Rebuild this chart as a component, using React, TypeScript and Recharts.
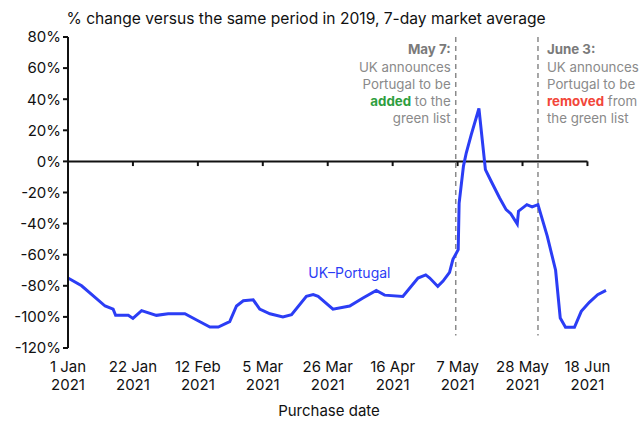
import React from 'react';
import { LineChart, Line, XAxis, YAxis, ReferenceLine, ReferenceDot } from 'recharts';

// day offsets from 1 Jan 2021 and the 7-day average % change
const days = [
  0, 4.4, 12, 14.6, 15.4, 19.5, 21, 23.8, 28.6, 32.4,
  37.8, 41.6, 45.9, 48.6, 52.3, 54.5, 56.7, 59.9, 62, 65.3,
  69.5, 72.3, 77.1, 79.3, 80.9, 85.7, 91.1, 95.4, 99.7, 102.4,
  108.3, 113.2, 115.7, 117, 119.6, 121.3, 123.4, 124.5, 126.2, 126.5,
  127.9, 128.8, 130.4, 132.9, 135, 136.9, 139.6, 141.7, 143.2, 145.3,
  145.7, 148.4, 150.1, 152, 155, 157.7, 159.2, 160.9, 163.8, 166,
  168.6, 171.3, 174,
];
const ukPortugal = [
  -75, -80, -93, -95, -99, -99, -101, -96, -99, -98,
  -98, -102, -106.5, -106.5, -103, -93, -89.6, -89, -95, -98,
  -100, -98.6, -86.8, -85.7, -86.8, -95, -93, -87.8, -83, -86,
  -86.8, -75, -73, -75, -80.4, -77, -71.4, -63, -56.8, -26.8,
  -3, 5.4, 17, 34, -5.3, -12.9, -23.5, -31, -33.6, -40.3,
  -32, -27.8, -29.3, -27.8, -48, -70, -100.7, -106.7, -106.7, -96.4,
  -90.6, -85.7, -83,
];

const tickDays = [0, 21, 42, 63, 84, 105, 126, 147, 168];
const tickLabels = ['1 Jan', '22 Jan', '12 Feb', '5 Mar', '26 Mar', '16 Apr', '7 May', '28 May', '18 Jun'];
const yTicks = [-120, -100, -80, -60, -40, -20, 0, 20, 40, 60, 80];

const addedDay = 125.4;
const removedDay = 152;

const data = days.map((d, i) => ({ day: d, value: ukPortugal[i] }));

const FONT = 'Inter, "Noto Sans", sans-serif';
const GREY = '#8a8a8a';
const BLUE = '#2b3df5';

// the root clips its content, so drop the body margin and use the full window
if (typeof document !== 'undefined') document.body.style.margin = '0';

const XTick = (props: any) => {
  const { x, y, payload } = props;
  const i = tickDays.indexOf(payload.value);
  return (
    <g>
      <text x={x} y={y} dy={16} textAnchor="middle" fontSize={15} fill="#111" fontFamily={FONT}>
        {tickLabels[i]}
      </text>
      <text x={x} y={y} dy={34} textAnchor="middle" fontSize={15} fill="#111" fontFamily={FONT}>
        2021
      </text>
    </g>
  );
};

const noteStyle = { fontSize: 13.3, fontFamily: FONT, fill: GREY };

const AddedNote = (props: any) => {
  const { x, y } = props.viewBox;
  const tx = x - 5;
  return (
    <g>
      <text x={tx} y={y + 17} textAnchor="end" {...noteStyle} fontWeight={700} fill="#7a7a7a">May 7:</text>
      <text x={tx} y={y + 34.5} textAnchor="end" {...noteStyle}>UK announces</text>
      <text x={tx} y={y + 51.5} textAnchor="end" {...noteStyle}>Portugal to be</text>
      <text x={tx} y={y + 69} textAnchor="end" {...noteStyle}>
        <tspan fill="#2e9e3e" fontWeight={700}>added</tspan> to the
      </text>
      <text x={tx} y={y + 86} textAnchor="end" {...noteStyle}>green list</text>
    </g>
  );
};

const RemovedNote = (props: any) => {
  const { x, y } = props.viewBox;
  const tx = x + 9;
  return (
    <g>
      <text x={tx} y={y + 17} {...noteStyle} fontWeight={700} fill="#7a7a7a">June 3:</text>
      <text x={tx} y={y + 34.5} {...noteStyle}>UK announces</text>
      <text x={tx} y={y + 51.5} {...noteStyle}>Portugal to be</text>
      <text x={tx} y={y + 69} {...noteStyle}>
        <tspan fill="#f2463a" fontWeight={700}>removed</tspan> from
      </text>
      <text x={tx} y={y + 86} {...noteStyle}>the green list</text>
    </g>
  );
};

export default function App() {
  return (
    <div style={{ position: 'relative', width: 643, height: 421, overflow: 'hidden' }}>
      <style>{'.recharts-surface, .recharts-wrapper { overflow: visible !important; }'}</style>
      <div style={{ position: 'absolute', left: 8, top: 8 }}>
        <LineChart
          width={635}
          height={413}
          data={data}
          margin={{ top: 29, right: 37, left: 0, bottom: 0 }}
        >
          <XAxis
            dataKey="day"
            type="number"
            domain={[0, 174]}
            ticks={tickDays}
            axisLine={false}
            tickLine={false}
            height={73}
            tick={<XTick />}
            interval={0}
          />
          <YAxis
            domain={[-120, 80]}
            ticks={yTicks}
            interval={0}
            width={60}
            tickFormatter={(v: number) => `${v}%`}
            axisLine={{ stroke: '#111', strokeWidth: 2 }}
            tickLine={{ stroke: '#111', strokeWidth: 2 }}
            tickSize={5}
            tick={{ fontSize: 15, fill: '#111', fontFamily: FONT }}
          />
          <ReferenceLine
            segment={[{ x: 0, y: 0 }, { x: 168, y: 0 }]}
            stroke="#111"
            strokeWidth={2}
          />
          {tickDays.slice(1).map((d) => (
            <ReferenceLine
              key={d}
              segment={[{ x: d, y: 0 }, { x: d, y: -3 }]}
              stroke="#111"
              strokeWidth={2}
            />
          ))}
          <ReferenceLine
            segment={[{ x: addedDay, y: 80 }, { x: addedDay, y: -112 }]}
            stroke={GREY}
            strokeWidth={1.5}
            strokeDasharray="5 4"
          />
          <ReferenceLine
            segment={[{ x: removedDay, y: 80 }, { x: removedDay, y: -112 }]}
            stroke={GREY}
            strokeWidth={1.5}
            strokeDasharray="5 4"
          />
          <ReferenceLine x={addedDay} stroke="none" label={<AddedNote />} />
          <ReferenceLine x={removedDay} stroke="none" label={<RemovedNote />} />
          <ReferenceDot
            x={91}
            y={-71.6}
            r={0}
            fill="none"
            stroke="none"
            label={{ value: 'UK–Portugal', position: 'center', fill: BLUE, fontSize: 14, fontFamily: FONT }}
          />
          <Line
            type="linear"
            dataKey="value"
            stroke={BLUE}
            strokeWidth={3}
            dot={false}
            isAnimationActive={false}
          />
        </LineChart>
      </div>
      <svg
        width={643}
        height={421}
        style={{ position: 'absolute', left: 0, top: 0, pointerEvents: 'none' }}
      >
        <text x={66.5} y={24} fontSize={15.6} fill="#111" fontFamily={FONT}>
          % change versus the same period in 2019, 7-day market average
        </text>
        <text x={329} y={416} fontSize={15} fill="#111" fontFamily={FONT} textAnchor="middle">
          Purchase date
        </text>
      </svg>
    </div>
  );
}
